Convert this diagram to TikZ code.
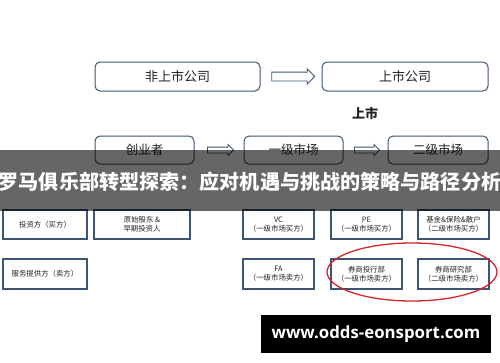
\documentclass[tikz,border=0pt]{standalone}
\usepackage{fontspec}
\setmainfont{Noto Sans CJK SC}
\newfontfamily\urlfont{Open Sans}
\usetikzlibrary{calc,shapes.arrows}
\definecolor{boxSlate}{RGB}{62,84,115}
\definecolor{textDark}{RGB}{34,34,34}
\definecolor{ringRed}{RGB}{214,38,45}
\tikzset{
  roundbox/.style={draw=boxSlate,line width=1pt,rounded corners=5pt,fill=white,text=textDark,inner sep=0pt},
  flatbox/.style={draw=boxSlate,line width=1.1pt,fill=white,text=textDark,inner sep=0pt,minimum width=71pt,minimum height=29pt,align=center,font=\fontsize{7.4}{9}\selectfont},
  hollowarr/.style={single arrow,draw=boxSlate,line width=0.9pt,fill=white,inner xsep=0pt,single arrow head indent=0pt}
}

\begin{document}
\begin{tikzpicture}[x=1pt,y=-1pt]
\useasboundingbox[fill=white] (0,0) rectangle (500,362);
% listing
\node[roundbox,minimum width=165pt,minimum height=29pt,font=\fontsize{13}{15}\selectfont] (unlisted) at (177.5,76.5) {非上市公司};
\node[roundbox,minimum width=166pt,minimum height=29pt,font=\fontsize{13}{15}\selectfont] (listed) at (405,76.5) {上市公司};
\path (unlisted.east) -- node[hollowarr,inner ysep=4pt,single arrow head extend=3pt,minimum height=43pt] (arrTop) {} (listed.west);
\node[text=textDark,font=\fontsize{13}{15}\selectfont\bfseries] (ipo) at (365,113) {上市};
% markets
\node[roundbox,minimum width=99pt,minimum height=28pt,font=\fontsize{12.5}{15}\selectfont] (founder) at (144.5,150) {创业者};
\node[roundbox,minimum width=99pt,minimum height=28pt,font=\fontsize{12.5}{15}\selectfont] (primary) at (293.5,150) {一级市场};
\node[roundbox,minimum width=100pt,minimum height=28pt,font=\fontsize{12.5}{15}\selectfont] (secondary) at (438,150) {二级市场};
\path (founder.east) -- node[hollowarr,inner ysep=2.5pt,single arrow head extend=2.5pt,minimum height=26pt] (arrA) {} (primary.west);
\path (primary.east) -- node[hollowarr,inner ysep=2.5pt,single arrow head extend=2.5pt,minimum height=25pt] (arrB) {} (secondary.west);
% buyers
\node[flatbox,minimum width=84pt] (buyer) at (45,224.5) {投资方（买方）};
\node[flatbox,minimum width=96pt] (holder) at (142,224.5) {原始股东 \&\\早期投资人};
\node[flatbox] (vc) at (278.5,224.5) {VC\\（一级市场买方）};
\node[flatbox] (pe) at (366.5,224.5) {PE\\（一级市场买方）};
\node[flatbox] (fund) at (453.5,224.5) {基金\&保险\&散户\\（二级市场买方）};
% sellers
\node[flatbox,minimum width=84pt,minimum height=30pt] (seller) at (45,274) {服务提供方（卖方）};
\node[flatbox,minimum height=30pt] (fa) at (278.5,274) {FA\\（一级市场卖方）};
\node[flatbox,minimum height=30pt] (ibank) at (366.5,274) {券商投行部\\（一级市场卖方）};
\node[flatbox,minimum height=30pt] (research) at (453.5,274) {券商研究部\\（二级市场卖方）};
\draw[ringRed,line width=1.3pt] ($(ibank)!0.5!(research)+(2,-2)$) ellipse[x radius=85,y radius=29];
% banner
\fill[black,opacity=0.6] (0,150) rectangle (500,211);
\node[text=white,font=\fontsize{20.1}{24}\selectfont\bfseries,inner sep=0pt] (title) at (250,182) {罗马俱乐部转型探索：应对机遇与挑战的策略与路径分析};
\node[fill=black,text=white,minimum width=230pt,minimum height=38pt,inner sep=0pt,font=\urlfont\fontsize{16.8}{19}\selectfont\bfseries] (site) at (376,334) {www.odds-eonsport.com};
\end{tikzpicture}
\end{document}
